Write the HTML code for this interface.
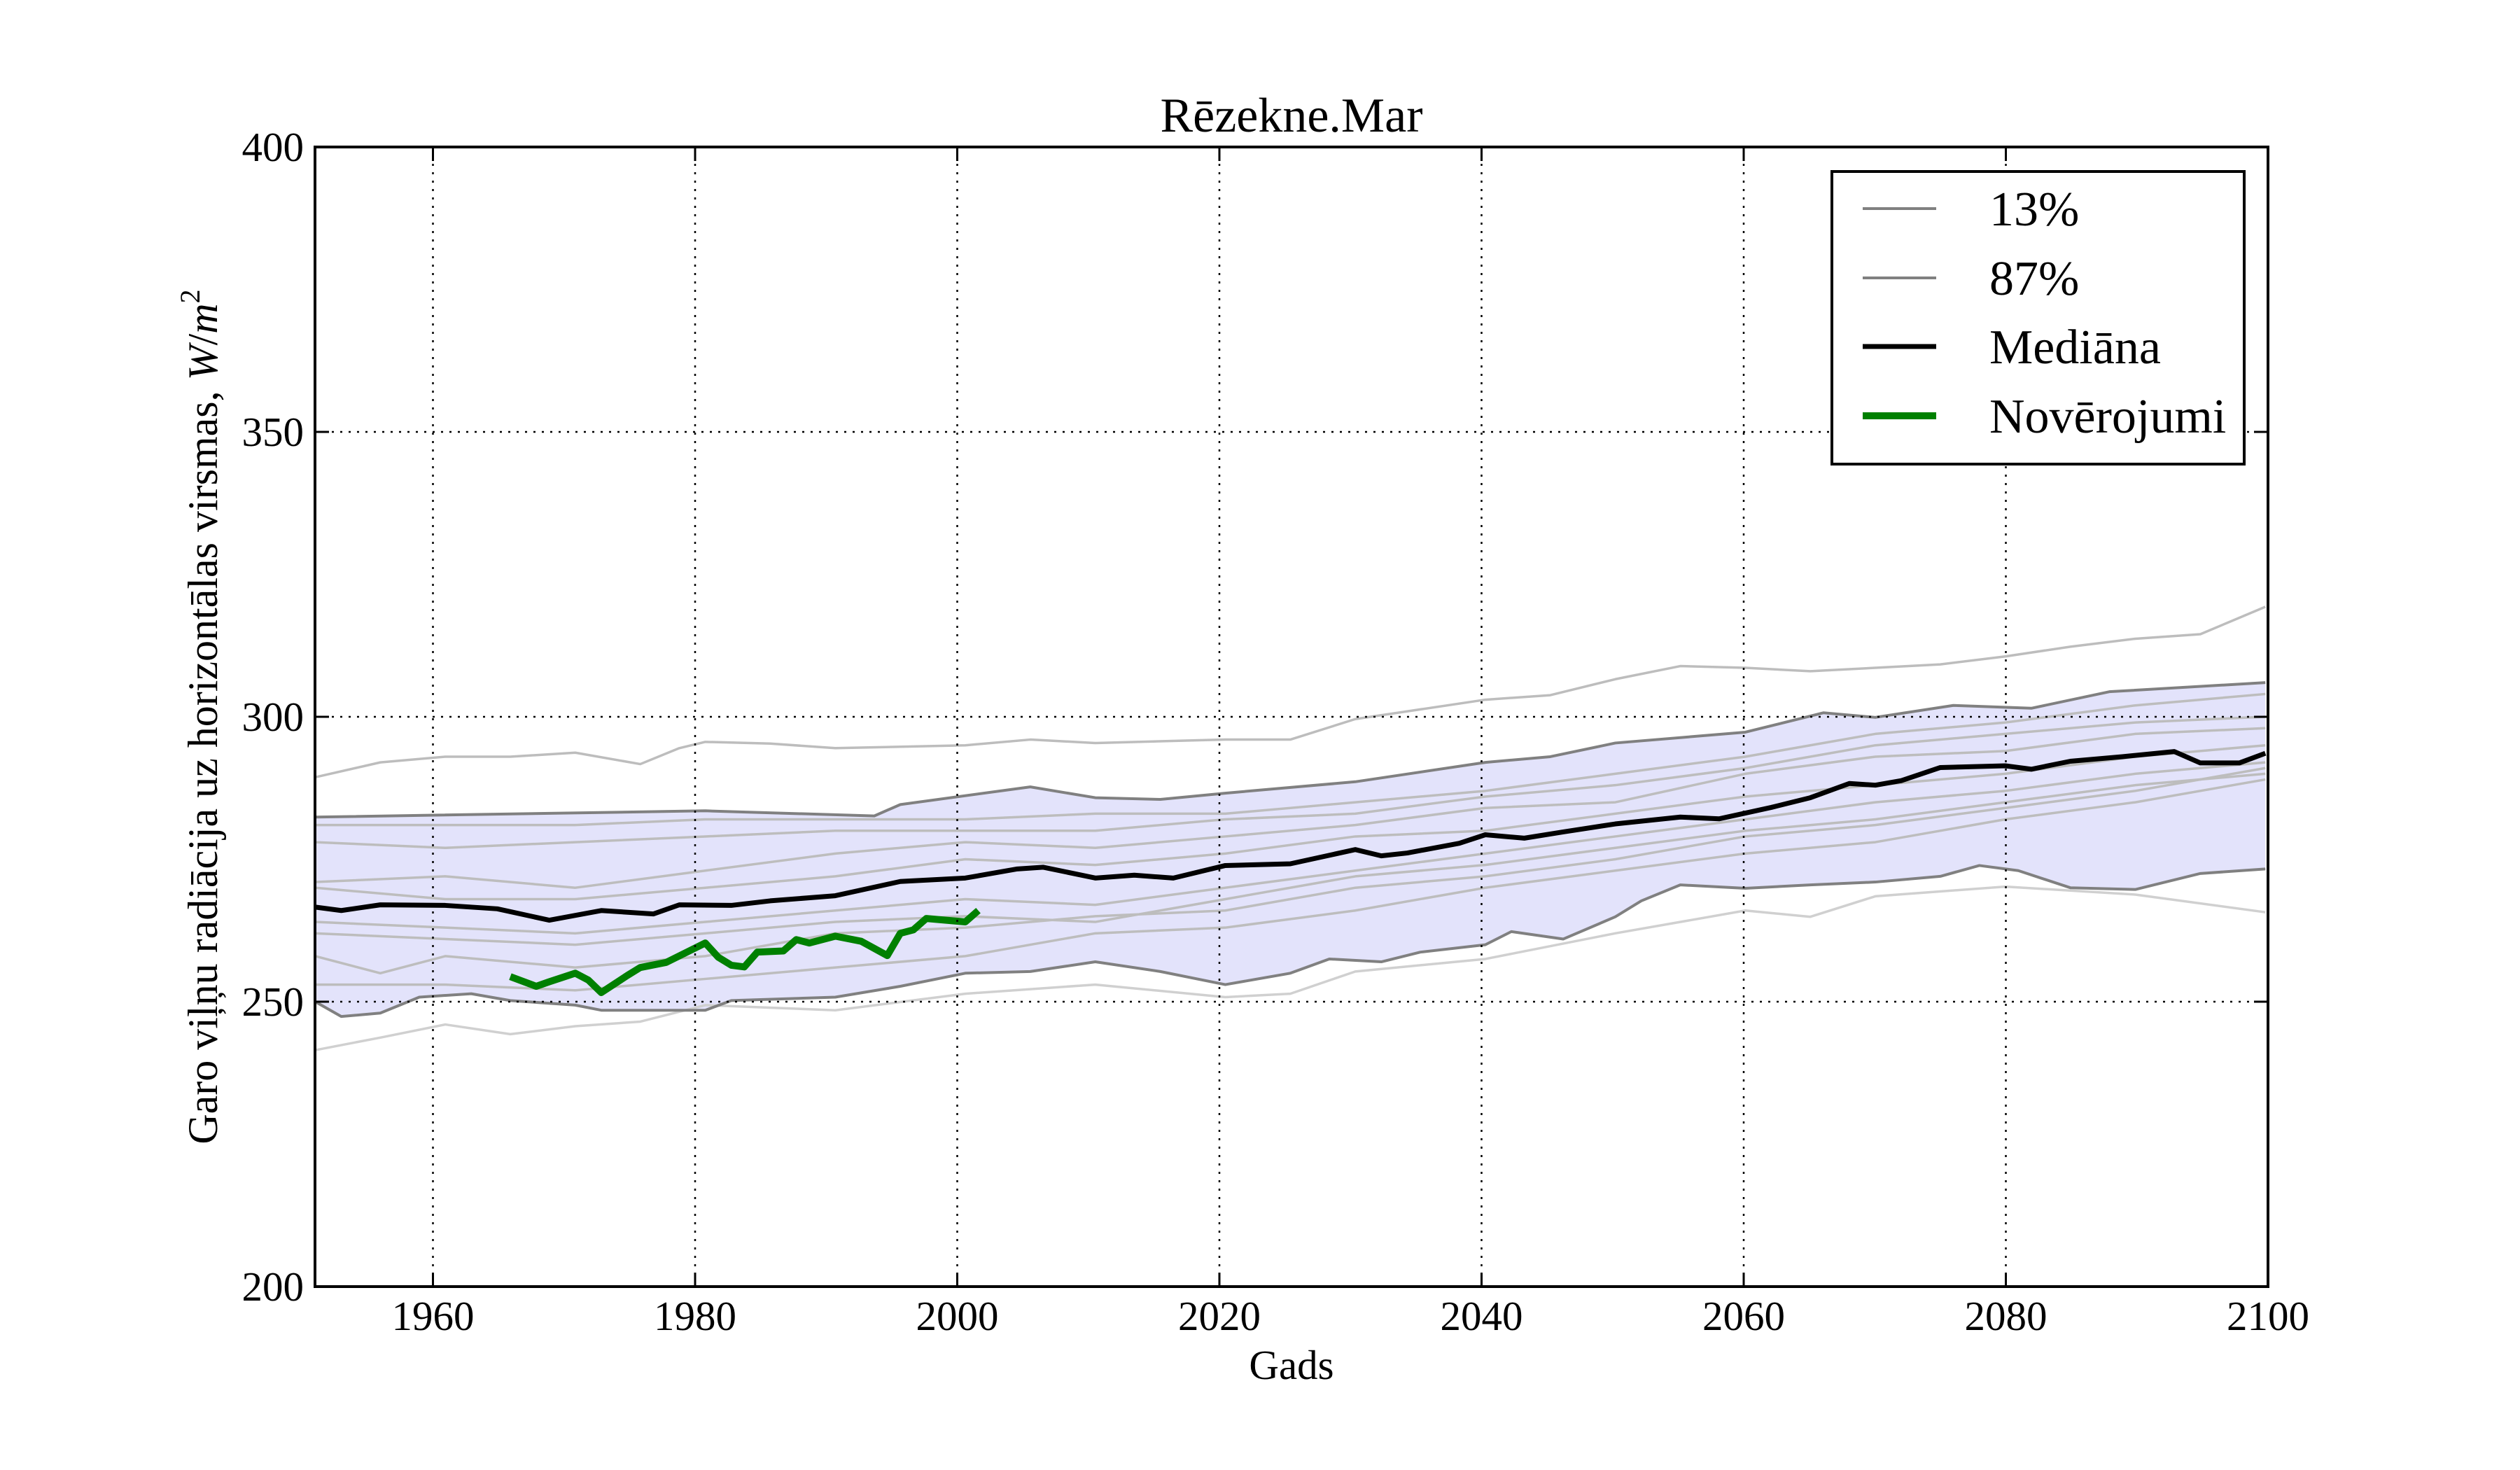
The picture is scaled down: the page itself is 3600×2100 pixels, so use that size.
<!DOCTYPE html>
<html><head><meta charset="utf-8"><style>
html,body{margin:0;padding:0;background:#fff;}
svg{display:block;font-family:"Liberation Serif",serif;}
</style></head><body>
<svg width="3600" height="2100" viewBox="0 0 3600 2100" xmlns="http://www.w3.org/2000/svg">
<rect width="3600" height="2100" fill="#fff"/>
<defs><clipPath id="c"><rect x="450" y="210" width="2790" height="1628"/></clipPath></defs>
<g clip-path="url(#c)">
<g transform="matrix(18.572 0 0 -8.14 -35765 3466)">
<polygon fill="#e3e3fb" stroke="none" points="1950,282.4 1980,283.5 1993,282.6 1995,284.6 2005,287.7 2010,285.8 2015,285.5 2020,286.6 2030,288.6 2040,292 2045,293 2050,295.4 2060,297.3 2066,300.7 2070,299.9 2076,302 2082,301.5 2088,304.4 2100,306 2100,273.3 2095,272.5 2090,269.7 2085,270 2081,273 2078,273.9 2075,272 2070,271 2065,270.5 2060,269.9 2055,270.5 2052,267.7 2050,264.9 2046,261 2042,262.3 2040,260 2035,258.7 2032,257 2028,257.5 2025,255 2020,253 2015,255.3 2010,257 2005,255.3 2000,255 1995,252.7 1990,250.8 1982,250.2 1980,248.5 1972,248.5 1970,249.4 1965,250.2 1962,251.4 1958,250.8 1955,248 1952,247.4 1950,250"/>
<g fill="none" stroke="#bdbdbd" stroke-width="3.5" stroke-linejoin="round">
<polyline vector-effect="non-scaling-stroke" points="1950,281 1960,281 1970,281 1980,282 1990,282 2000,282 2010,283 2020,283 2030,285 2040,287 2050,290 2060,293 2070,297 2080,299 2090,302 2100,304"/>
<polyline vector-effect="non-scaling-stroke" points="1950,278 1960,277 1970,278 1980,279 1990,280 2000,280 2010,280 2020,282 2030,283 2040,286 2050,288 2060,291 2070,295 2080,297 2090,299 2100,300"/>
<polyline vector-effect="non-scaling-stroke" points="1950,271 1960,272 1970,270 1980,273 1990,276 2000,278 2010,277 2020,279 2030,281 2040,284 2050,285 2060,290 2070,293 2080,294 2090,297 2100,298"/>
<polyline vector-effect="non-scaling-stroke" points="1950,270 1960,268 1970,268 1980,270 1990,272 2000,275 2010,274 2020,276 2030,279 2040,280 2050,283 2060,286 2070,288 2080,290 2090,293 2100,295"/>
<polyline vector-effect="non-scaling-stroke" points="1950,264 1960,263 1970,262 1980,264 1990,266 2000,268 2010,267 2020,270 2030,273 2040,276 2050,279 2060,282 2070,285 2080,287 2090,290 2100,292"/>
<polyline vector-effect="non-scaling-stroke" points="1950,262 1960,261 1970,260 1980,262 1990,264 2000,265 2010,264 2020,268 2030,272 2040,274 2050,277 2060,280 2070,282 2080,285 2090,288 2100,290"/>
<polyline vector-effect="non-scaling-stroke" points="1950,258 1955,255 1960,258 1970,256 1980,258 1990,262 2000,263 2010,265 2020,266 2030,270 2040,272 2050,275 2060,279 2070,281 2080,284 2090,287 2100,291"/>
<polyline vector-effect="non-scaling-stroke" points="1950,253 1960,253 1970,252 1980,254 1990,256 2000,258 2010,262 2020,263 2030,266 2040,270 2050,273 2060,276 2070,278 2080,282 2090,285 2100,289"/>
<polyline vector-effect="non-scaling-stroke" points="1950,289.4 1955,292 1960,293 1965,293 1970,293.7 1975,291.7 1978,294.5 1980,295.6 1985,295.3 1990,294.5 2000,295 2005,296 2010,295.4 2020,296 2025,296 2030,299.6 2035,301.3 2040,303 2045,303.8 2050,306.6 2055,308.9 2060,308.6 2065,308 2070,308.6 2075,309.2 2080,310.6 2085,312.3 2090,313.7 2095,314.5 2100,319.3"/>
<polyline vector-effect="non-scaling-stroke" stroke="#d0d0d0" points="1950,241.5 1955,243.7 1960,246 1965,244.3 1970,245.7 1975,246.5 1980,249.4 1990,248.5 2000,251.4 2010,253 2020,250.8 2025,251.4 2030,255.3 2040,257.5 2050,262 2060,266 2065,264.9 2070,268.5 2080,270.2 2090,268.8 2100,265.7"/>
</g>
<g fill="none" stroke="#808080" stroke-width="4" stroke-linejoin="round">
<polyline vector-effect="non-scaling-stroke" points="1950,282.4 1980,283.5 1993,282.6 1995,284.6 2005,287.7 2010,285.8 2015,285.5 2020,286.6 2030,288.6 2040,292 2045,293 2050,295.4 2060,297.3 2066,300.7 2070,299.9 2076,302 2082,301.5 2088,304.4 2100,306"/>
<polyline vector-effect="non-scaling-stroke" points="1950,250 1952,247.4 1955,248 1958,250.8 1962,251.4 1965,250.2 1970,249.4 1972,248.5 1980,248.5 1982,250.2 1990,250.8 1995,252.7 2000,255 2005,255.3 2010,257 2015,255.3 2020,253 2025,255 2028,257.5 2032,257 2035,258.7 2040,260 2042,262.3 2046,261 2050,264.9 2052,267.7 2055,270.5 2060,269.9 2065,270.5 2070,271 2075,272 2078,273.9 2081,273 2085,270 2090,269.7 2095,272.5 2100,273.3"/>
</g>
<polyline fill="none" stroke="#000" stroke-width="7" stroke-linejoin="round" vector-effect="non-scaling-stroke" points="1950,266.6 1952,266 1955,267 1960,266.9 1964,266.3 1968,264.3 1972,266 1976,265.4 1978,267 1982,266.9 1985,267.7 1990,268.6 1995,271.1 2000,271.7 2004,273.3 2006,273.6 2010,271.7 2013,272.2 2016,271.7 2020,273.9 2025,274.2 2030,276.7 2032,275.6 2034,276.1 2038,277.8 2040,279.3 2043,278.7 2046,279.8 2050,281.2 2055,282.4 2058,282.1 2062,284.1 2065,285.8 2068,288.3 2070,288 2072,288.8 2075,291.1 2080,291.4 2082,290.8 2085,292.2 2089,293 2093,293.9 2095,291.9 2098,291.9 2100,293.6"/>
<polyline fill="none" stroke="#008000" stroke-width="10" stroke-linejoin="round" vector-effect="non-scaling-stroke" points="1965,254.4 1967,252.7 1968,253.5 1970,255 1971,253.8 1972,251.6 1974,254.6 1975,256 1977,256.9 1980,260.3 1981,257.8 1982,256.4 1983,256.1 1984,258.7 1986,258.9 1987,260.9 1988,260.3 1990,261.5 1992,260.6 1994,258.1 1995,262 1996,262.6 1997,264.6 2000,264 2001,266"/>
</g>
</g>
<g stroke="#000" stroke-width="2.5" stroke-dasharray="3,9">
<line x1="618.5" y1="210" x2="618.5" y2="1838"/><line x1="993" y1="210" x2="993" y2="1838"/><line x1="1367.5" y1="210" x2="1367.5" y2="1838"/><line x1="1742" y1="210" x2="1742" y2="1838"/><line x1="2116.5" y1="210" x2="2116.5" y2="1838"/><line x1="2491" y1="210" x2="2491" y2="1838"/><line x1="2865.5" y1="210" x2="2865.5" y2="1838"/>
<line x1="450" y1="617" x2="3240" y2="617"/><line x1="450" y1="1024" x2="3240" y2="1024"/><line x1="450" y1="1431" x2="3240" y2="1431"/>
</g>
<g stroke="#000" stroke-width="3">
<path d="M618.5 210v20M993 210v20M1367.5 210v20M1742 210v20M2116.5 210v20M2491 210v20M2865.5 210v20M618.5 1838v-20M993 1838v-20M1367.5 1838v-20M1742 1838v-20M2116.5 1838v-20M2491 1838v-20M2865.5 1838v-20M450 617h20M450 1024h20M450 1431h20M3240 617h-20M3240 1024h-20M3240 1431h-20"/>
</g>
<rect x="450" y="210" width="2790" height="1628" fill="none" stroke="#000" stroke-width="4"/>
<g font-size="59" fill="#000">
<g text-anchor="end">
<text x="434" y="230">400</text><text x="434" y="637">350</text><text x="434" y="1044">300</text><text x="434" y="1451">250</text><text x="434" y="1858">200</text>
</g>
<g text-anchor="middle">
<text x="618.5" y="1900">1960</text><text x="993" y="1900">1980</text><text x="1367.5" y="1900">2000</text><text x="1742" y="1900">2020</text><text x="2116.5" y="1900">2040</text><text x="2491" y="1900">2060</text><text x="2865.5" y="1900">2080</text><text x="3240" y="1900">2100</text>
</g>
</g>
<text x="1845" y="188" font-size="70" text-anchor="middle">Rēzekne.Mar</text>
<text x="1845" y="1970" font-size="59" text-anchor="middle">Gads</text>
<text transform="translate(310,1024) rotate(-90)" font-size="60" text-anchor="middle">Garo viļņu radiācija uz horizontālas virsmas, <tspan font-style="italic">W</tspan>/<tspan font-style="italic">m</tspan><tspan font-size="40" dy="-25">2</tspan></text>
<rect x="2617" y="245" width="589" height="418" fill="#fff" stroke="#000" stroke-width="4"/>
<g stroke-width="4">
<line x1="2661" y1="298" x2="2766" y2="298" stroke="#808080"/>
<line x1="2661" y1="397" x2="2766" y2="397" stroke="#808080"/>
<line x1="2661" y1="495" x2="2766" y2="495" stroke="#000" stroke-width="7"/>
<line x1="2661" y1="594" x2="2766" y2="594" stroke="#008000" stroke-width="10"/>
</g>
<g font-size="70" fill="#000">
<text x="2842" y="322">13%</text>
<text x="2842" y="421">87%</text>
<text x="2842" y="519">Mediāna</text>
<text x="2842" y="618">Novērojumi</text>
</g>
</svg>
</body></html>
